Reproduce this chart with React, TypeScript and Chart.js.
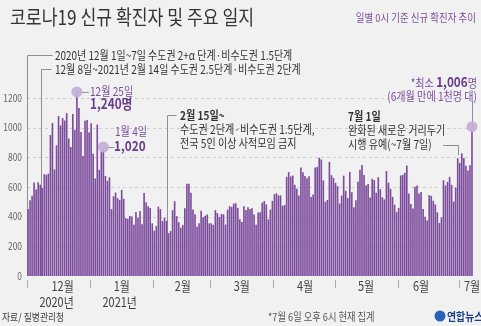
import { useEffect, useRef } from 'react';
import { Chart, registerables } from 'chart.js';

Chart.register(...registerables);

// ---- data ----
const monthNumbers = [12, 1, 2, 3, 4, 5, 6, 7];
const monthDays = [31, 31, 28, 31, 30, 31, 30, 7];
const monthNames = ['12월', '1월', '2월', '3월', '4월', '5월', '6월', '7월'];
const monthLabelDays = ['12/18', '1/16', '2/15', '3/16', '4/16', '5/16', '6/12', '7/7'];
const monthBoundaryDays = ['12/1', '1/1', '2/1', '3/1', '4/1', '5/1', '6/1', '7/1'];
const yearLabels = ['2020년', '2021년'];
const yearLabelDays = ['12/15', '1/15'];
const yTicks = [0, 200, 400, 600, 800, 1000, 1200];

const decCases = [451, 511, 540, 629, 583, 631, 615, 594, 686, 682, 689, 950, 1030, 718, 880, 1078, 1014, 1064, 1047, 1097, 926, 869, 1092, 985, 1240, 1132, 970, 808, 1045, 1050, 967];
const janCases = [1029, 824, 657, 1020, 715, 840, 869, 674, 641, 665, 451, 537, 562, 524, 513, 580, 520, 389, 386, 404, 401, 346, 431, 392, 437, 349, 559, 497, 469, 458, 355];
const febCases = [305, 336, 467, 451, 370, 393, 372, 289, 303, 444, 504, 403, 362, 326, 344, 457, 621, 621, 561, 448, 416, 332, 356, 440, 396, 406, 415, 355];
const marCases = [355, 344, 444, 424, 398, 418, 416, 346, 446, 470, 465, 488, 490, 459, 382, 363, 469, 445, 463, 452, 456, 415, 346, 428, 430, 494, 505, 482, 382, 447, 506];
const aprCases = [551, 557, 543, 543, 473, 478, 668, 700, 671, 677, 614, 587, 542, 731, 698, 673, 658, 672, 532, 549, 731, 735, 797, 785, 644, 500, 512, 769, 679, 661];
const mayCases = [627, 606, 488, 541, 676, 574, 525, 701, 564, 463, 511, 635, 715, 747, 681, 610, 619, 528, 654, 646, 561, 666, 585, 530, 516, 707, 629, 587, 533, 480, 430];
const junCases = [459, 677, 681, 695, 744, 556, 485, 454, 602, 610, 556, 565, 452, 399, 373, 545, 540, 507, 482, 429, 357, 395, 645, 610, 634, 668, 614, 501, 595, 794];
const julCases = [762, 826, 794, 743, 711, 746, 1006];

const days: string[] = [];
monthNumbers.forEach((m, i) => {
  for (let d = 1; d <= monthDays[i]; d++) days.push(`${m}/${d}`);
});
const cases = [...decCases, ...janCases, ...febCases, ...marCases, ...aprCases, ...mayCases, ...junCases, ...julCases];

// annotation anchors (days)
const dec25 = '12/25';
const jan4Marker = '1/7';
const dec8Line = '12/8';
const feb15Line = '2/7';
const jul1Line = '6/30';
const lastDay = '7/7';

const FONT = "'Noto Sans CJK KR', 'Noto Sans', sans-serif";
const PURPLE = '#7c4c9c';
const TXT_PURPLE = '#7a4e99';
const NUM_PURPLE = '#6a3c8c';

type TOpts = { size?: number; weight?: string; color?: string; align?: 'left' | 'right' | 'center'; sx?: number };

function measure(ctx: CanvasRenderingContext2D, s: string, o: TOpts) {
  ctx.save();
  ctx.font = `${o.weight || 'normal'} ${o.size || 12}px ${FONT}`;
  const w = ctx.measureText(s).width * (o.sx ?? 0.84);
  ctx.restore();
  return w;
}

function txt(ctx: CanvasRenderingContext2D, s: string, x: number, y: number, o: TOpts = {}) {
  const sx = o.sx ?? 0.84;
  ctx.save();
  ctx.font = `${o.weight || 'normal'} ${o.size || 12}px ${FONT}`;
  ctx.fillStyle = o.color || '#333';
  ctx.textBaseline = 'middle';
  ctx.textAlign = 'left';
  const w = ctx.measureText(s).width * sx;
  const align = o.align || 'left';
  const x0 = align === 'left' ? x : align === 'right' ? x - w : x - w / 2;
  ctx.translate(x0, y);
  ctx.scale(sx, 1);
  ctx.fillText(s, 0, 0);
  ctx.restore();
  return w;
}

function line(ctx: CanvasRenderingContext2D, pts: number[][], color = '#999', width = 1) {
  ctx.save();
  ctx.strokeStyle = color;
  ctx.lineWidth = width;
  ctx.beginPath();
  pts.forEach((p, i) => (i === 0 ? ctx.moveTo(p[0], p[1]) : ctx.lineTo(p[0], p[1])));
  ctx.stroke();
  ctx.restore();
}

function dot(ctx: CanvasRenderingContext2D, x: number, y: number, r = 5.5) {
  ctx.save();
  ctx.fillStyle = 'rgba(196,176,214,0.95)';
  ctx.beginPath();
  ctx.arc(x, y, r, 0, Math.PI * 2);
  ctx.fill();
  ctx.restore();
}

const plugin = {
  id: 'decor',
  beforeDraw(chart: any) {
    const ctx = chart.ctx as CanvasRenderingContext2D;
    ctx.save();
    ctx.fillStyle = '#f1f1f1';
    ctx.fillRect(0, 0, chart.width, chart.height);
    ctx.restore();
  },
  beforeDatasetsDraw(chart: any) {
    const ctx = chart.ctx as CanvasRenderingContext2D;
    const { x, y } = chart.scales;
    const area = chart.chartArea;
    const half = (x.getPixelForValue(1) - x.getPixelForValue(0)) / 2;
    // dashed grid
    ctx.save();
    ctx.strokeStyle = '#cdcdcd';
    ctx.lineWidth = 1;
    ctx.setLineDash([3, 3]);
    yTicks.forEach((v) => {
      if (v === 0) return;
      const py = Math.round(y.getPixelForValue(v)) + 0.5;
      ctx.beginPath();
      ctx.moveTo(area.left, py);
      ctx.lineTo(area.right, py);
      ctx.stroke();
    });
    ctx.restore();
    const base = y.getPixelForValue(0);
    // axis / period lines
    const lx = Math.round(area.left) + 0.5;
    line(ctx, [[lx + 25, 55.5], [lx, 55.5], [lx, base]], '#8f8f8f');
    const d8 = Math.round(x.getPixelForValue(days.indexOf(dec8Line)) - half) + 0.5;
    line(ctx, [[d8 + 10, 69.5], [d8, 69.5], [d8, base]], '#8f8f8f');
    const f15 = Math.round(x.getPixelForValue(days.indexOf(feb15Line))) + 0.5;
    line(ctx, [[f15 + 9, 115.5], [f15, 115.5], [f15, base]], '#8f8f8f');
  },
  afterDatasetsDraw(chart: any) {
    const ctx = chart.ctx as CanvasRenderingContext2D;
    const { x, y } = chart.scales;
    const half = (x.getPixelForValue(1) - x.getPixelForValue(0)) / 2;
    const base = y.getPixelForValue(0);

    // title
    txt(ctx, '코로나19 신규 확진자 및 주요 일지', 10, 17, { size: 20, color: '#333', sx: 0.86 });
    txt(ctx, '일별 0시 기준 신규 확진자 추이', 476, 18, { size: 11, color: TXT_PURPLE, align: 'right', sx: 0.86 });

    // period annotations
    txt(ctx, '2020년 12월 1일~7일 수도권 2+α 단계·비수도권 1.5단계', 55, 55, { size: 12, color: '#333', sx: 0.83 });
    txt(ctx, '12월 8일~2021년 2월 14일 수도권 2.5단계·비수도권 2단계', 55, 69, { size: 12, color: '#333', sx: 0.83 });

    // Dec 25 marker
    const i25 = days.indexOf(dec25);
    const x25 = x.getPixelForValue(i25);
    const y25 = y.getPixelForValue(cases[i25]);
    line(ctx, [[x25, y25 + 0.5], [x25 + 12, y25 + 0.5]], '#8f8f8f');
    dot(ctx, x25, y25);
    txt(ctx, '12월 25일', 90, 91, { size: 12, color: TXT_PURPLE });
    txt(ctx, '1,240명', 90, 104, { size: 14, weight: 'bold', color: NUM_PURPLE });

    // Jan 4 marker
    const i4 = days.indexOf(jan4Marker);
    const x4 = x.getPixelForValue(i4);
    const y4 = y.getPixelForValue(cases[i4]);
    line(ctx, [[x4, y4 + 0.5], [x4 + 11, y4 + 0.5]], '#8f8f8f');
    dot(ctx, x4, y4);
    txt(ctx, '1월 4일', 115, 131, { size: 12, color: TXT_PURPLE });
    txt(ctx, '1,020', 114, 146, { size: 14, weight: 'bold', color: NUM_PURPLE });

    // Feb 15 text
    txt(ctx, '2월 15일~', 180, 115, { size: 12, weight: 'bold', color: '#333' });
    txt(ctx, '수도권 2단계·비수도권 1.5단계,', 180, 129, { size: 12, color: '#333' });
    txt(ctx, '전국 5인 이상 사적모임 금지', 180, 143, { size: 12, color: '#333' });

    // Jul 1 text
    txt(ctx, '7월 1일', 348, 116, { size: 12, weight: 'bold', color: '#333' });
    txt(ctx, '완화된 새로운 거리두기', 348, 130, { size: 12, color: '#333' });
    txt(ctx, '시행 유예(~7월 7일)', 348, 144, { size: 12, color: '#333' });
    const ij = days.indexOf(jul1Line);
    const xj = Math.round(x.getPixelForValue(ij)) + 0.5;
    const yj = y.getPixelForValue(cases[ij]);
    line(ctx, [[443, 145.5], [xj, 145.5], [xj, yj - 3]], '#8f8f8f');

    // last day marker
    const il = days.indexOf(lastDay);
    const xl = x.getPixelForValue(il);
    const yl = y.getPixelForValue(cases[il]);
    line(ctx, [[Math.round(xl) + 0.5, yl], [Math.round(xl) + 0.5, 101]], '#9a88aa');
    dot(ctx, xl, yl);
    // "*최소 1,006명"
    const p1 = '*최소 ', p2 = '1,006', p3 = '명';
    const o1: TOpts = { size: 12, color: TXT_PURPLE };
    const o2: TOpts = { size: 14, weight: 'bold', color: NUM_PURPLE };
    const wTot = measure(ctx, p1, o1) + measure(ctx, p2, o2) + measure(ctx, p3, o1);
    let cx = 477 - wTot;
    cx += txt(ctx, p1, cx, 83, o1);
    cx += txt(ctx, p2, cx, 82, o2);
    txt(ctx, p3, cx, 83, o1);
    txt(ctx, '(6개월 만에 1천명 대)', 477, 96, { size: 12, color: TXT_PURPLE, align: 'right' });

    // y tick labels
    yTicks.forEach((v) => {
      txt(ctx, String(v), 22, y.getPixelForValue(v), { size: 10, color: '#666', align: 'right' });
    });

    // x tick marks at month boundaries
    monthBoundaryDays.forEach((d) => {
      const bx = Math.round(x.getPixelForValue(days.indexOf(d)) - half) + 0.5;
      line(ctx, [[bx, base + 4], [bx, base + 12]], '#aaaaaa');
    });
    // month labels
    monthLabelDays.forEach((d, i) => {
      txt(ctx, monthNames[i], x.getPixelForValue(days.indexOf(d)), base + 10, { size: 13, color: '#444', align: 'center' });
    });
    yearLabelDays.forEach((d, i) => {
      txt(ctx, yearLabels[i], x.getPixelForValue(days.indexOf(d)), base + 26, { size: 13, color: '#444', align: 'center' });
    });

    // footer
    txt(ctx, '자료/ 질병관리청', 2, 317, { size: 10.5, color: '#444' });
    txt(ctx, '*7월 6일 오후 6시 현재 집계', 268, 317, { size: 11, color: '#555' });
    ctx.save();
    ctx.fillStyle = '#2a62b8';
    ctx.beginPath();
    ctx.arc(440, 316, 5.5, 0, Math.PI * 2);
    ctx.fill();
    ctx.restore();
    txt(ctx, '연합뉴스', 447, 317, { size: 11, weight: 'bold', color: '#1d3f88', sx: 0.9 });
  },
};

export default function App() {
  const ref = useRef<HTMLCanvasElement | null>(null);
  useEffect(() => {
    document.body.style.margin = '0';
    const canvas = ref.current;
    if (!canvas) return;
    const chart = new Chart(canvas, {
      type: 'bar',
      data: {
        labels: days,
        datasets: [
          {
            data: cases,
            backgroundColor: PURPLE,
            borderWidth: 0,
            barPercentage: 0.8,
            categoryPercentage: 1,
          },
        ],
      },
      options: {
        responsive: false,
        animation: false,
        devicePixelRatio: 1,
        layout: { padding: { left: 0, right: 8, top: 83, bottom: 50 } },
        plugins: { legend: { display: false }, tooltip: { enabled: false }, title: { display: false } },
        scales: {
          x: {
            grid: { display: false, drawTicks: false },
            border: { display: false },
            ticks: { display: false },
            afterFit: (s: any) => {
              s.height = 0;
            },
          },
          y: {
            min: 0,
            max: 1300,
            grid: { display: false, drawTicks: false },
            border: { display: false },
            ticks: { display: false },
            afterFit: (s: any) => {
              s.width = 27;
            },
          },
        },
      },
      plugins: [plugin],
    } as any);
    return () => chart.destroy();
  }, []);
  return <canvas ref={ref} width={481} height={326} style={{ display: 'block', width: 481, height: 326 }} />;
}
